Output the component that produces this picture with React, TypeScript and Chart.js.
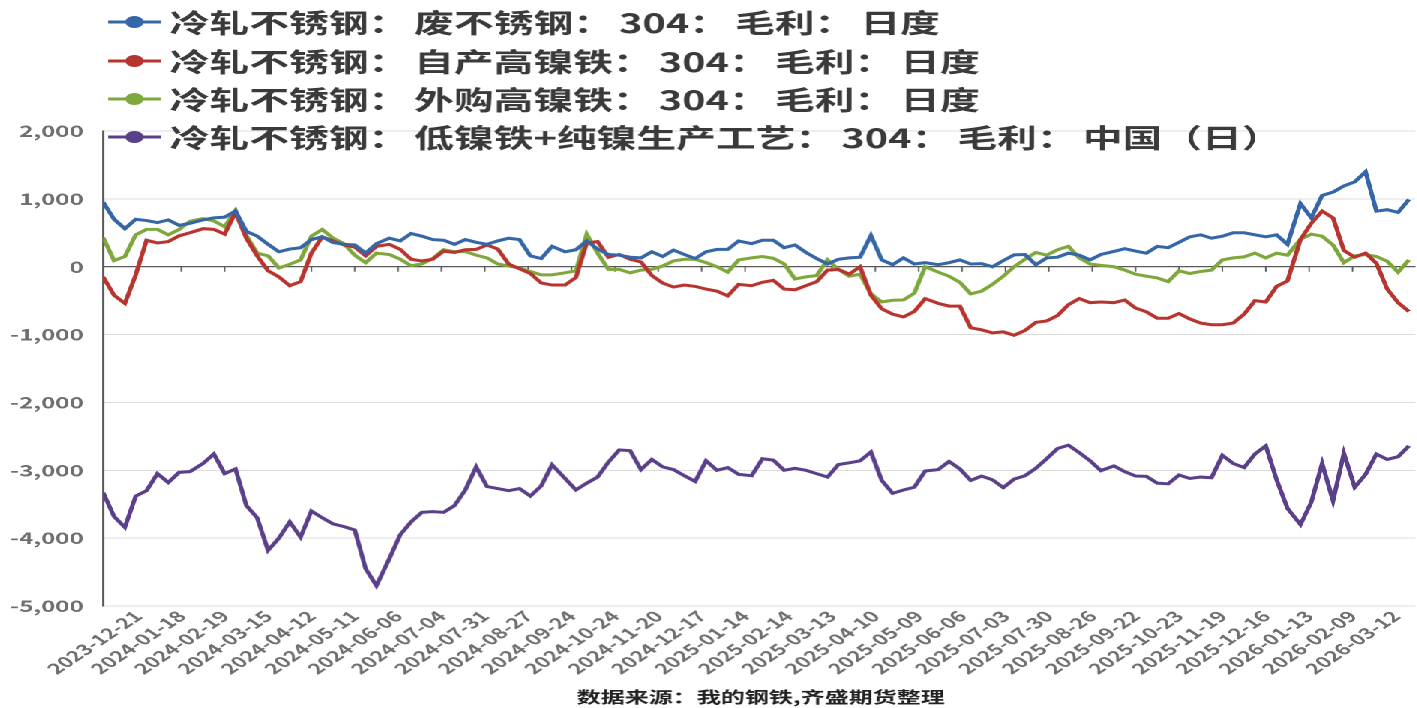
import React, { useEffect, useRef } from 'react';
import { Chart, registerables } from 'chart.js';
Chart.register(...registerables);

// x tick labels (one every 20 trading days, first one 16 days after the series start)
const TICK_LABELS = ['2023-12-21','2024-01-18','2024-02-19','2024-03-15','2024-04-12','2024-05-11','2024-06-06','2024-07-04','2024-07-31','2024-08-27','2024-09-24','2024-10-24','2024-11-20','2024-12-17','2025-01-14','2025-02-14','2025-03-13','2025-04-10','2025-05-09','2025-06-06','2025-07-03','2025-07-30','2025-08-26','2025-09-22','2025-10-23','2025-11-19','2025-12-16','2026-01-13','2026-02-09','2026-03-12'];
const FIRST_LABEL_INDEX = 16;
const TICK_EVERY = 20;       // trading days between labels
const SAMPLE_EVERY = 5.06;   // average trading days between sampled values
const LAST_INDEX = 605;

const SERIES_NAMES = [
  '冷轧不锈钢：废不锈钢：304：毛利：日度',
  '冷轧不锈钢：自产高镍铁：304：毛利：日度',
  '冷轧不锈钢：外购高镍铁：304：毛利：日度',
  '冷轧不锈钢：低镍铁+纯镍生产工艺：304：毛利：中国（日）',
];
const SERIES_COLORS = ['#3466a8', '#b8352f', '#7fa83c', '#5a3f8a'];

const SCRAP = [950,700,560,700,680,650,690,610,640,690,720,730,820,520,450,330,220,260,280,400,440,355,330,320,200,340,420,380,490,450,400,390,330,400,360,330,380,420,400,160,
  120,300,220,250,380,260,180,170,140,130,220,150,245,180,120,220,255,255,380,340,390,390,280,320,210,120,40,110,130,140,460,100,30,130,40,60,30,60,100,40,
  45,0,90,175,180,30,130,140,200,170,100,180,225,265,230,200,300,280,360,440,470,420,450,500,500,470,440,470,330,930,720,1050,1100,1190,1250,1400,820,840,800,990];
const OWN_NPI = [-150,-420,-540,-120,390,350,370,455,500,560,550,480,800,420,160,-60,-150,-280,-220,200,440,380,320,290,160,300,330,255,110,85,110,230,210,250,255,320,260,40,-30,-100,
  -240,-270,-270,-160,350,370,140,180,110,70,-130,-240,-300,-270,-290,-330,-360,-430,-260,-280,-230,-200,-330,-340,-280,-220,-50,-40,-110,0,-420,-620,-700,-740,-660,-470,-540,-580,-580,-900,
  -930,-975,-960,-1010,-940,-820,-800,-720,-560,-470,-530,-520,-530,-490,-610,-665,-760,-760,-690,-770,-830,-855,-855,-830,-700,-500,-520,-290,-210,400,640,820,720,240,140,200,50,-330,-530,-660];
const BOUGHT_NPI = [430,90,150,470,550,550,470,550,670,710,675,590,830,460,200,160,-20,35,100,450,550,420,340,170,60,200,180,110,15,40,120,250,220,225,170,130,40,10,-20,-70,
  -120,-120,-90,-60,480,200,-40,-40,-90,-50,-40,10,85,110,110,60,0,-80,100,130,150,125,40,-180,-150,-130,100,-40,-140,-110,-400,-520,-495,-490,-390,0,-80,-140,-230,-400,
  -360,-260,-140,0,110,210,170,250,300,130,40,20,0,-50,-110,-140,-165,-220,-60,-100,-70,-50,100,130,145,200,130,200,170,405,480,450,320,60,160,180,150,80,-80,100];
const LOW_NI = [-3330,-3680,-3840,-3380,-3300,-3050,-3180,-3030,-3020,-2900,-2760,-3050,-2980,-3520,-3700,-4180,-4000,-3760,-3985,-3600,-3700,-3790,-3830,-3880,-4450,-4700,-4300,-3950,-3760,-3620,-3610,-3620,-3520,-3290,-2950,-3240,-3270,-3300,-3270,-3380,
  -3230,-2920,-3120,-3290,-3190,-3100,-2880,-2700,-2710,-2990,-2840,-2950,-2990,-3080,-3165,-2860,-3000,-2960,-3060,-3080,-2830,-2850,-3000,-2970,-3000,-3050,-3100,-2915,-2890,-2860,-2730,-3150,-3340,-3290,-3250,-3010,-2990,-2870,-2980,-3150,
  -3085,-3140,-3255,-3130,-3080,-2970,-2830,-2680,-2630,-2740,-2860,-3005,-2935,-3020,-3085,-3090,-3190,-3200,-3070,-3120,-3100,-3110,-2780,-2900,-2960,-2760,-2640,-3140,-3560,-3800,-3470,-2900,-3450,-2750,-3250,-3060,-2760,-2840,-2800,-2640];

const Y_MIN = -5000;
const Y_MAX = 2000;
const Y_STEP = 1000;
const SOURCE_TEXT = '数据来源：我的钢铁,齐盛期货整理';

const SX = 1.5;
const W = 1417 / SX;
const H = 708;
const FONT = "'Noto Sans CJK SC', 'Noto Sans', sans-serif";

const toPoints = (arr: number[]) => arr.map((v, i) => ({ x: Math.round(i * SAMPLE_EVERY), y: v }));
const labelIndex = (i: number) => FIRST_LABEL_INDEX + i * TICK_EVERY;

const overlayPlugin = {
  id: 'overlay',
  beforeDatasetsDraw(chart: any) {
    const { ctx, scales } = chart;
    const y0 = scales.y.getPixelForValue(0);
    ctx.save();
    ctx.strokeStyle = '#595959';
    ctx.lineWidth = 1;
    TICK_LABELS.forEach((_, i) => {
      const x = scales.x.getPixelForValue(labelIndex(i));
      ctx.beginPath();
      ctx.moveTo(x, y0);
      ctx.lineTo(x, y0 + 5);
      ctx.stroke();
    });
    ctx.restore();
  },
  afterDraw(chart: any) {
    const { ctx } = chart;
    ctx.save();
    const rows = [22, 61, 99, 137];
    SERIES_NAMES.forEach((name, i) => {
      const y = rows[i];
      ctx.strokeStyle = SERIES_COLORS[i];
      ctx.lineWidth = 3;
      ctx.beginPath();
      ctx.moveTo(72, y);
      ctx.lineTo(107, y);
      ctx.stroke();
      ctx.fillStyle = SERIES_COLORS[i];
      ctx.beginPath();
      ctx.arc(89.5, y, 6, 0, Math.PI * 2);
      ctx.fill();
      ctx.fillStyle = '#3a3a3a';
      ctx.font = `bold 26.5px ${FONT}`;
      ctx.textBaseline = 'middle';
      ctx.textAlign = 'left';
      const parts = name.split('：');
      let x = 113;
      parts.forEach((p, j) => {
        const seg = j < parts.length - 1 ? p + '：' : p;
        ctx.fillText(seg, x, y + 1);
        x += ctx.measureText(seg).width + (j < parts.length - 1 ? 4 : 0);
      });
    });
    ctx.fillStyle = '#222';
    ctx.font = `bold 16px ${FONT}`;
    ctx.textAlign = 'center';
    ctx.textBaseline = 'middle';
    ctx.fillText(SOURCE_TEXT, 507, 697);
    ctx.restore();
  },
};

export default function App() {
  const ref = useRef<HTMLCanvasElement>(null);
  useEffect(() => {
    document.body.style.overflow = 'hidden';
    const data = [SCRAP, OWN_NPI, BOUGHT_NPI, LOW_NI];
    const chart = new Chart(ref.current as HTMLCanvasElement, {
      type: 'line',
      data: {
        datasets: data.map((arr, i) => ({
          label: SERIES_NAMES[i],
          data: toPoints(arr),
          borderColor: SERIES_COLORS[i],
          backgroundColor: SERIES_COLORS[i],
          borderWidth: 3,
          pointRadius: 0,
          tension: 0,
          fill: false,
        })),
      },
      options: {
        animation: false,
        responsive: true,
        maintainAspectRatio: false,
        devicePixelRatio: 2,
        layout: { padding: { top: 131, bottom: 30, left: 0, right: 0 } },
        plugins: { legend: { display: false }, tooltip: { enabled: false } },
        scales: {
          x: {
            type: 'linear',
            min: 0,
            max: LAST_INDEX,
            grid: { display: false, drawTicks: false },
            border: { display: false },
            afterBuildTicks: (scale: any) => {
              scale.ticks = TICK_LABELS.map((_, i) => ({ value: labelIndex(i) }));
            },
            afterFit: (scale: any) => { scale.height = 72; },
            ticks: {
              autoSkip: false,
              maxRotation: 45,
              minRotation: 45,
              padding: 1,
              color: '#6f6f6f',
              font: { family: FONT, size: 15, weight: 'bold' },
              callback: (v: any) => TICK_LABELS[Math.round((Number(v) - FIRST_LABEL_INDEX) / TICK_EVERY)] ?? '',
            },
          },
          y: {
            min: Y_MIN,
            max: Y_MAX,
            afterFit: (scale: any) => { scale.width = 103 / SX; },
            grid: {
              drawTicks: false,
              color: (c: any) => (c.tick && c.tick.value === 0 ? '#595959' : '#dcdcdc'),
              lineWidth: (c: any) => (c.tick && c.tick.value === 0 ? 1.3 : 1),
            },
            border: { display: true, color: '#595959', width: 1.5 },
            ticks: {
              stepSize: Y_STEP,
              padding: 13,
              color: '#6f6f6f',
              font: { family: FONT, size: 16, weight: 'bold' },
              callback: (v: any) => Number(v).toLocaleString('en-US'),
            },
          },
        },
      },
      plugins: [overlayPlugin],
    } as any);
    return () => chart.destroy();
  }, []);
  return (
    <div style={{ position: 'absolute', left: 0, top: 0, width: W, height: H, transform: `scaleX(${SX})`, transformOrigin: '0 0', background: '#fff' }}>
      <canvas ref={ref} />
    </div>
  );
}
